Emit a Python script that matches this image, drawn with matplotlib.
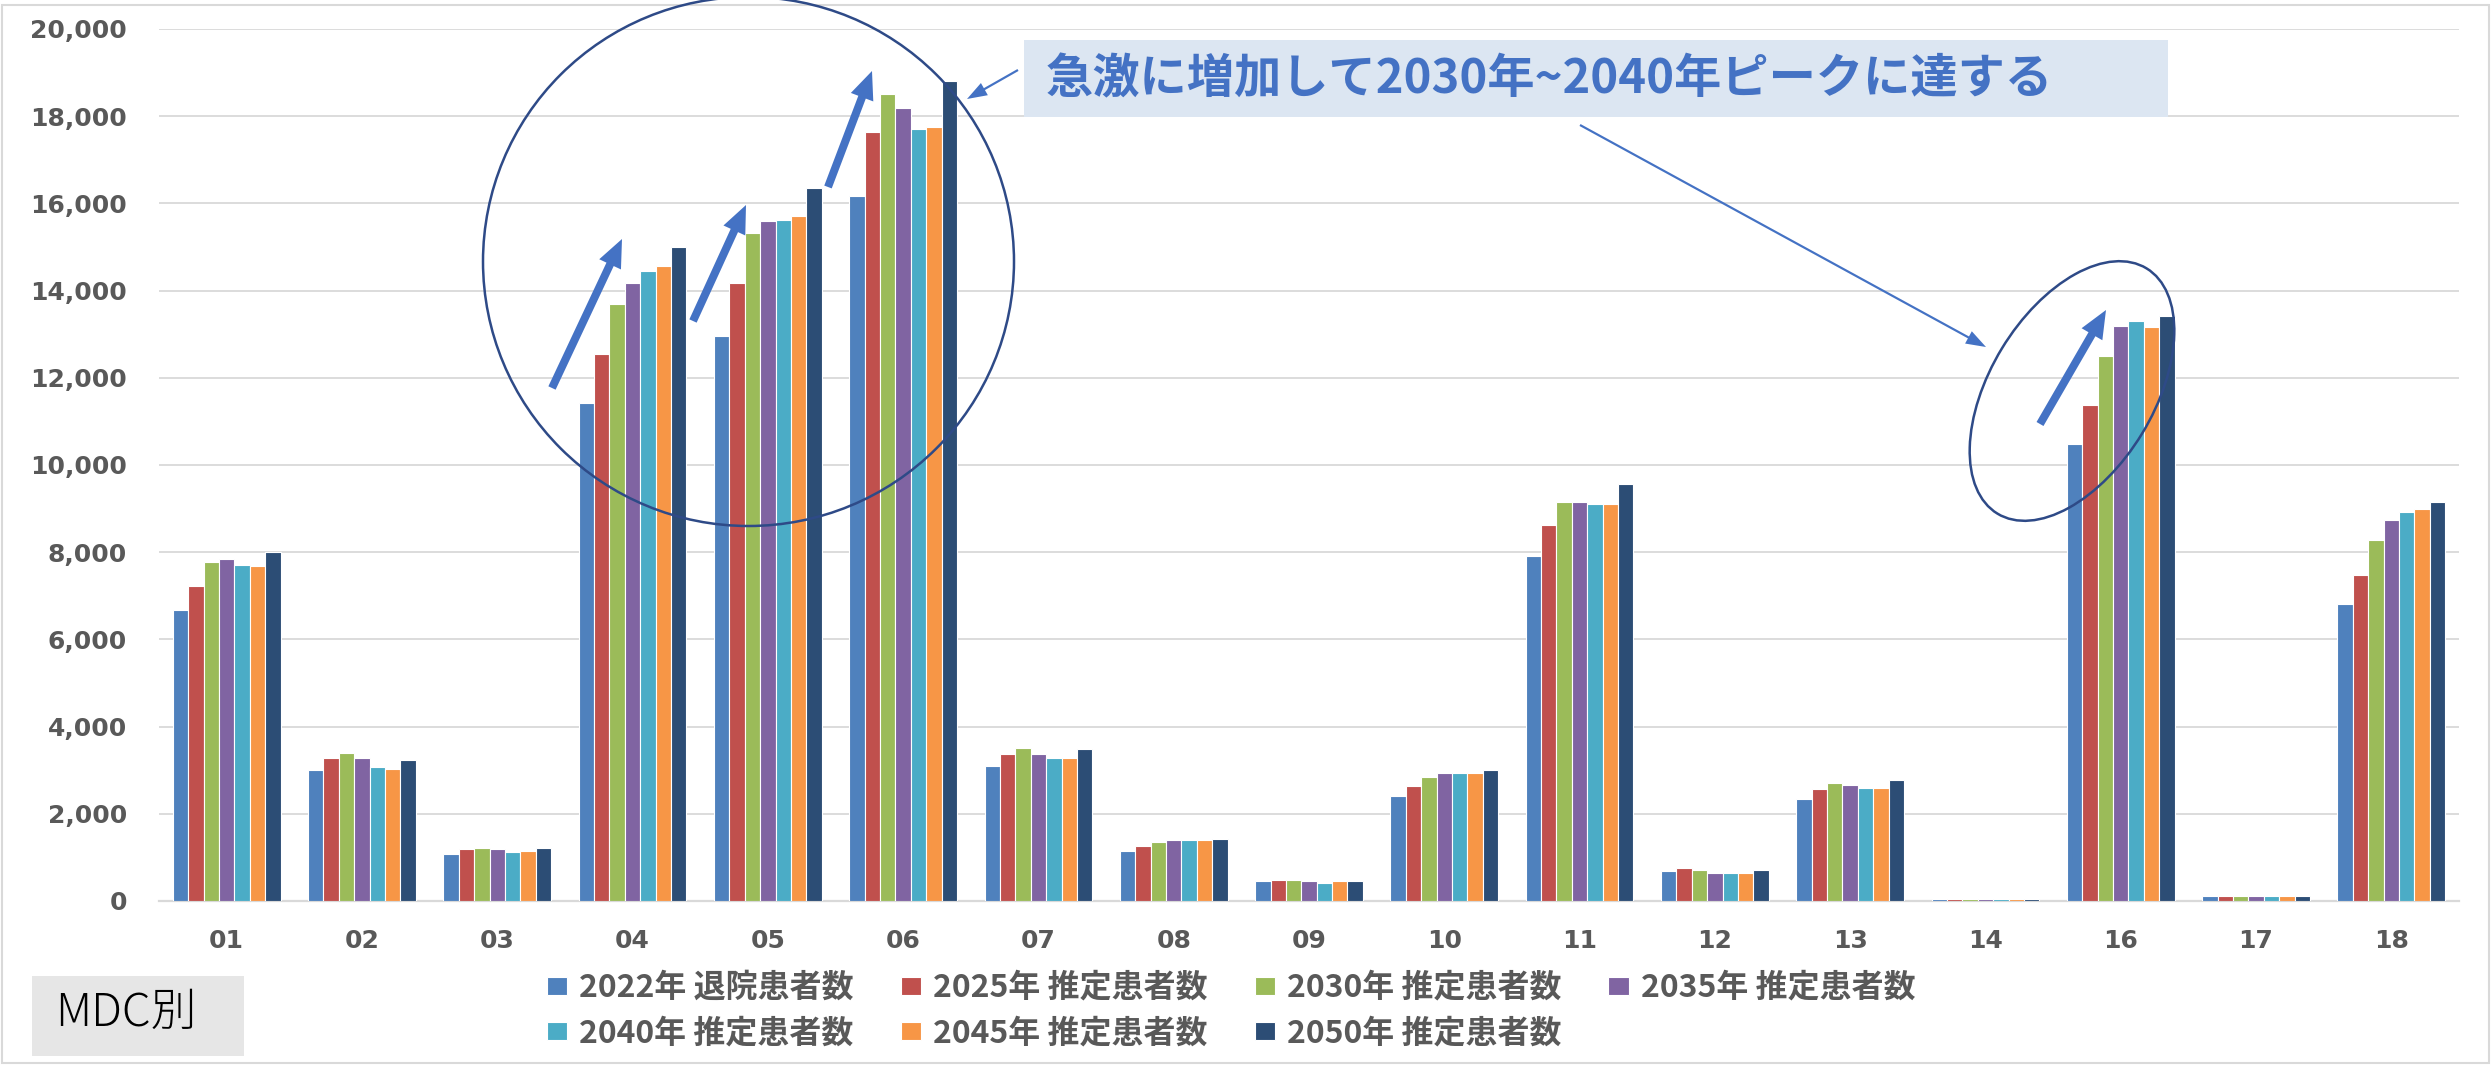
import numpy as np
import matplotlib
matplotlib.use('Agg')
from matplotlib import pyplot as plt
from matplotlib.patches import Ellipse, FancyArrow, Rectangle
from matplotlib.ticker import FuncFormatter
from matplotlib.transforms import Affine2D

# MDC categories (no 15 in the source)
mdc = ['01', '02', '03', '04', '05', '06', '07', '08', '09',
       '10', '11', '12', '13', '14', '16', '17', '18']

labels = ['2022年 退院患者数', '2025年 推定患者数', '2030年 推定患者数',
          '2035年 推定患者数', '2040年 推定患者数', '2045年 推定患者数',
          '2050年 推定患者数']

s2022 = [6669, 2998, 1078, 11431, 12958, 16160, 3104, 1154, 452, 2401, 7914, 681, 2333, 40, 10488, 105, 6815]
s2025 = [7233, 3273, 1186, 12540, 14175, 17640, 3372, 1254, 482, 2631, 8618, 750, 2562, 40, 11378, 105, 7472]
s2030 = [7777, 3402, 1216, 13688, 15318, 18515, 3502, 1353, 482, 2837, 9161, 711, 2700, 40, 12489, 105, 8275]
s2035 = [7845, 3273, 1186, 14185, 15592, 18190, 3372, 1392, 452, 2936, 9161, 650, 2661, 40, 13195, 105, 8748]
s2040 = [7708, 3067, 1117, 14453, 15623, 17710, 3273, 1392, 413, 2936, 9100, 650, 2600, 40, 13292, 105, 8922]
s2045 = [7678, 3035, 1147, 14568, 15718, 17745, 3273, 1392, 452, 2936, 9100, 650, 2600, 40, 13166, 105, 8980]
s2050 = [8013, 3235, 1216, 14989, 16360, 18815, 3479, 1422, 452, 3005, 9566, 711, 2768, 40, 13408, 105, 9154]

series = [s2022, s2025, s2030, s2035, s2040, s2045, s2050]
colors = ['#4F81BD', '#C0504D', '#9BBB59', '#8064A2', '#4BACC6', '#F79646', '#2C4D75']

cjk = ['Noto Sans CJK JP', 'DejaVu Sans']
grey = '#595959'
W, H = 2491, 1067

fig = plt.figure(figsize=(W / 100, H / 100), dpi=100)
ax = fig.add_axes([159 / W, 1 - 901 / H, 2300 / W, 872 / H])

x = np.arange(len(mdc))
bw = 0.1138
bars = []
for i, (vals, c, lab) in enumerate(zip(series, colors, labels)):
    b = ax.bar(x + (i - 3) * bw, vals, bw, color=c, edgecolor='white',
               linewidth=0.8, label=lab, zorder=3)
    bars.append(b)

ax.set_xlim(-0.5, len(mdc) - 0.5)
ax.set_ylim(0, 20000)
ax.set_yticks(np.arange(0, 20001, 2000))
ax.yaxis.set_major_formatter(FuncFormatter(lambda v, p: '{:,.0f}'.format(v)))
ax.set_xticks(x, mdc)
ax.grid(axis='y', color='#D9D9D9', lw=1.3, zorder=0)
for s in ['top', 'right', 'left']:
    ax.spines[s].set_visible(False)
ax.spines['bottom'].set_color('#D9D9D9')
ax.spines['bottom'].set_linewidth(1.6)
ax.tick_params(length=0, labelsize=18, labelcolor=grey)
ax.tick_params(axis='x', pad=20)
ax.tick_params(axis='y', pad=23)
for t in ax.get_xticklabels() + ax.get_yticklabels():
    t.set_fontweight('bold')

# legend fills column by column, so reorder to read row by row
order = [0, 4, 1, 5, 2, 6, 3]
fig.legend([bars[k] for k in order], [labels[k] for k in order],
           ncol=4, loc='upper left', bbox_to_anchor=(547 / W, 1 - 972 / H),
           frameon=False, prop=dict(family=cjk, weight='bold', size=23),
           handlelength=0.63, handleheight=0.48, handletextpad=0.38,
           columnspacing=1.47, borderpad=0, borderaxespad=0,
           labelspacing=0.43, labelcolor=grey)

# annotations, placed in image pixels (origin top-left)
pix = Affine2D().scale(1 / W, -1 / H).translate(0, 1) + fig.transFigure
navy = '#2E4A87'
blue = '#4472C4'

fig.add_artist(Rectangle((1.5, 5), W - 4, 1058, transform=pix, fill=False,
                         ec='#D9D9D9', lw=1.5))
fig.add_artist(Ellipse((748.5, 261.5), 531, 529, transform=pix, fill=False,
                       ec=navy, lw=1.8, zorder=5))
fig.add_artist(Ellipse((2072, 391), 287, 164, angle=-58.7, transform=pix,
                       fill=False, ec=navy, lw=1.8, zorder=5))

for (x0, y0, x1, y1) in [(552, 388, 622, 239), (693, 321, 746, 205),
                         (828, 187, 872, 71), (2040, 424, 2106, 310)]:
    fig.add_artist(FancyArrow(x0, y0, x1 - x0, y1 - y0, width=8, head_width=24,
                              head_length=28, length_includes_head=True,
                              transform=pix, color=blue, lw=0, zorder=6))

for (x0, y0, x1, y1) in [(1018, 70, 967, 99), (1580, 125, 1986, 347)]:
    fig.add_artist(FancyArrow(x0, y0, x1 - x0, y1 - y0, width=2.2, head_width=14,
                              head_length=20, length_includes_head=True,
                              transform=pix, color=blue, lw=0, zorder=6))

fig.add_artist(Rectangle((1024, 40), 1144, 77, transform=pix, fc='#DCE6F2',
                         ec='none', zorder=4))
fig.text(1046, 79, '急激に増加して2030年~2040年ピークに達する', transform=pix,
         ha='left', va='center', fontsize=34, fontweight='bold', color=blue,
         family=cjk, zorder=7)

fig.add_artist(Rectangle((32, 976), 212, 80, transform=pix, fc='#E6E6E6',
                         ec='none', zorder=4))
fig.text(55, 1013, 'MDC別', transform=pix, ha='left', va='center',
         fontsize=33, fontweight='light', color='black', family=cjk, zorder=7)

fig.savefig('out.png', dpi=100)
